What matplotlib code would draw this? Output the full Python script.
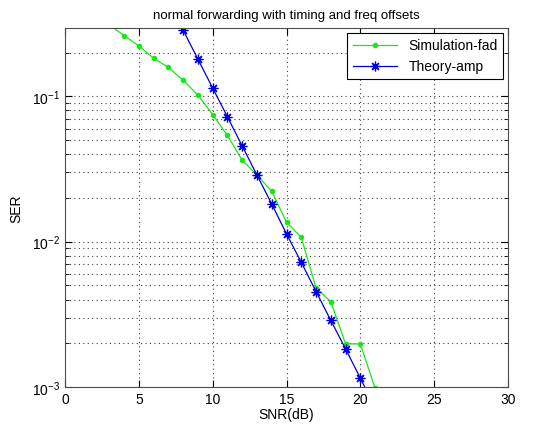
import matplotlib
matplotlib.use("Agg")
import matplotlib.pyplot as plt
from matplotlib.ticker import LogLocator, NullFormatter, FixedLocator

plt.rcParams["font.family"] = ["Liberation Sans", "DejaVu Sans"]

# SER (points above the y-limit are clipped)
snr_sim = [3, 4, 5, 6, 7, 8, 9, 10, 11, 12, 13, 14, 15, 16, 17, 18, 19, 20, 21]
ser_sim = [0.31, 0.262, 0.222, 0.183, 0.158, 0.129, 0.102, 0.0749, 0.0538, 0.0363,
           0.0287, 0.0222, 0.0136, 0.0107, 0.00479, 0.00387, 0.00198, 0.00198, 0.00098]

snr_th = [7, 8, 9, 10, 11, 12, 13, 14, 15, 16, 17, 18, 19, 20, 21]
ser_th = [0.45, 0.285, 0.180, 0.114, 0.0722, 0.0455, 0.0287, 0.01815, 0.0113,
          0.00721, 0.00454, 0.00287, 0.00183, 0.00115, 0.00072]

fig = plt.figure(figsize=(5.36, 4.27), dpi=100)
ax = fig.add_axes([0.1213, 0.0913, 0.8265, 0.8407])

ax.semilogy(snr_sim, ser_sim, color=(0.1, 0.9, 0.1), marker=".", markersize=6,
            linewidth=0.9, label="Simulation-fad")
ax.semilogy(snr_th, ser_th, color=(0, 0, 0.85), marker=(8, 2, 0), markersize=7,
            markeredgewidth=0.9, linewidth=0.9, label="Theory-amp")

ax.set_xlim(0, 30)
ax.set_ylim(1e-3, 0.295)
ax.xaxis.set_major_locator(FixedLocator([0, 5, 10, 15, 20, 25, 30]))
ax.yaxis.set_major_locator(LogLocator(base=10, numticks=10))
ax.yaxis.set_minor_locator(LogLocator(base=10, subs=range(2, 10), numticks=10))
ax.yaxis.set_minor_formatter(NullFormatter())

grid_style = dict(color="0.25", linestyle=(0, (1, 3)), linewidth=0.8)
ax.grid(True, which="major", **grid_style)
ax.grid(True, which="minor", axis="y", **grid_style)
ax.tick_params(which="both", direction="in", top=True, right=True, labelsize=10)
ax.tick_params(which="major", length=5)
ax.tick_params(which="minor", length=3)
for sp in ax.spines.values():
    sp.set_color("0.3")

ax.set_title("normal forwarding with timing and freq offsets", fontsize=9.5, pad=7)
ax.set_xlabel("SNR(dB)", fontsize=10, labelpad=1)
ax.set_ylabel("SER", fontsize=10, labelpad=6)

leg = ax.legend(loc="upper right", fontsize=10, fancybox=False, framealpha=1,
                edgecolor="black", borderaxespad=0.35, handlelength=3.2)
leg.get_frame().set_linewidth(0.8)

fig.savefig("out.png", dpi=100)
